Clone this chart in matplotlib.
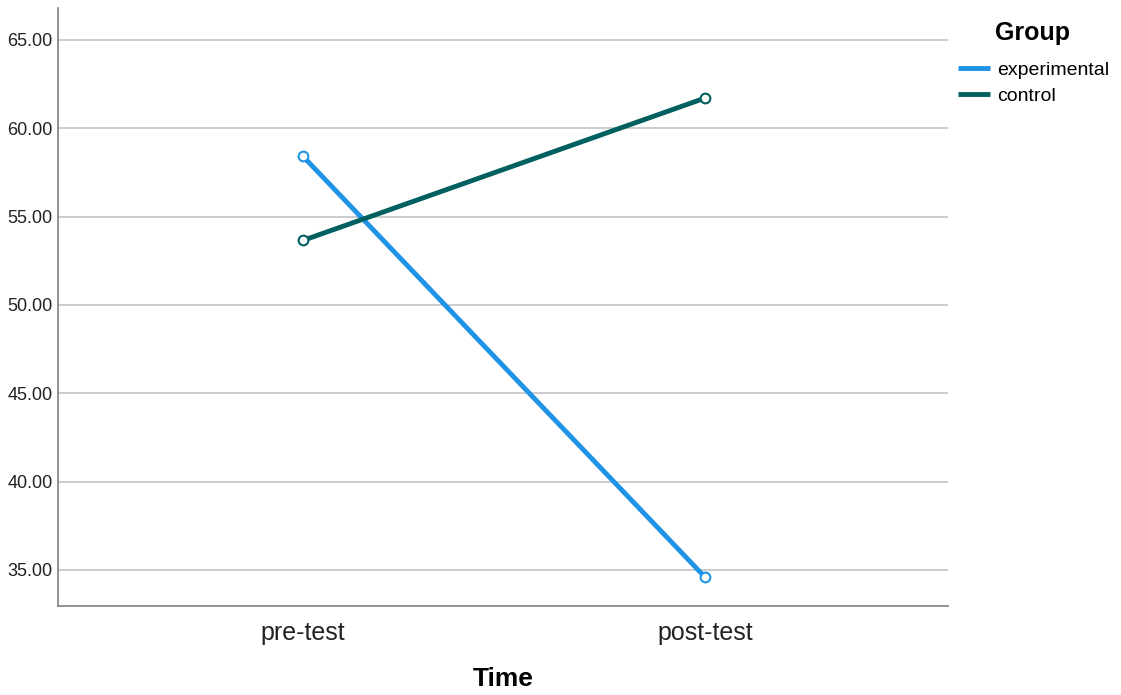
import matplotlib
matplotlib.use("Agg")
from matplotlib import pyplot as plt

times = ["pre-test", "post-test"]
groups = ["experimental", "control"]
experimental = [58.4, 34.6]
control = [53.65, 61.7]
colors = ["#1f93e6", "#005f5f"]
yticks = [35, 40, 45, 50, 55, 60, 65]

plt.rcParams["font.family"] = ["Liberation Sans", "DejaVu Sans"]

fig = plt.figure(figsize=(11.21, 6.95), dpi=100)
ax = fig.add_axes([58 / 1121, 1 - 606 / 695, 890 / 1121, 598 / 695])

x = list(range(len(times)))
for vals, name, c in zip([experimental, control], groups, colors):
    ax.plot(x, vals, color=c, lw=3.5, label=name, marker="o", markersize=7,
            markerfacecolor="white", markeredgecolor=c, markeredgewidth=1.5,
            solid_capstyle="butt")

ax.set_xlim(-0.61, 1.605)
ax.set_ylim(32.96, 66.8)
ax.set_yticks(yticks)
ax.set_yticklabels([f"{v:.2f}" for v in yticks], fontsize=13, color="#222222")
ax.set_xticks(x)
ax.set_xticklabels(times, fontsize=18, color="#222222")
ax.tick_params(length=0)
ax.tick_params(axis="x", pad=11)
ax.tick_params(axis="y", pad=4)
ax.grid(axis="y", color="#c8c8c8", lw=1.3)
ax.set_axisbelow(True)
for s in ["top", "right"]:
    ax.spines[s].set_visible(False)
for s in ["left", "bottom"]:
    ax.spines[s].set_color("#808080")
    ax.spines[s].set_linewidth(1.2)

ax.set_xlabel("Time", fontsize=19, fontweight="bold", labelpad=16)

leg = fig.legend(loc="upper left", bbox_to_anchor=(958 / 1121, 1 - 61 / 695),
                 frameon=False, fontsize=14, handlelength=1.65, borderpad=0,
                 borderaxespad=0, handletextpad=0.35, labelspacing=0.45)
for h in leg.legend_handles:
    h.set_marker("")
fig.text(1033 / 1121, 1 - 33 / 695, "Group", fontsize=18, fontweight="bold",
         ha="center", va="center")

fig.savefig("out.png", dpi=100)
